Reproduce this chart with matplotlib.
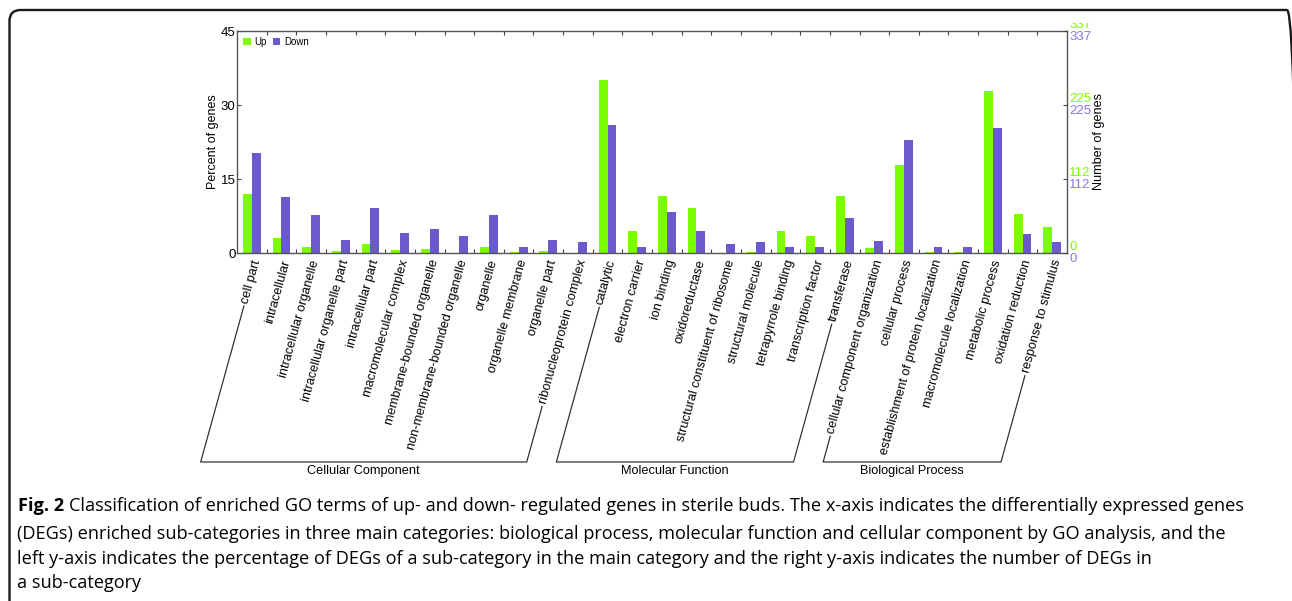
import numpy as np
import matplotlib
matplotlib.use("Agg")
import matplotlib.pyplot as plt
from matplotlib.transforms import IdentityTransform, ScaledTranslation, Bbox
from matplotlib.patches import FancyBboxPatch
from matplotlib.lines import Line2D

plt.rcParams['font.family'] = ['Liberation Sans', 'DejaVu Sans']

cc_terms = ["cell part", "intracellular", "intracellular organelle",
            "intracellular organelle part", "intracellular part",
            "macromolecular complex", "membrane-bounded organelle",
            "non-membrane-bounded organelle", "organelle", "organelle membrane",
            "organelle part", "ribonucleoprotein complex"]
mf_terms = ["catalytic", "electron carrier", "ion binding", "oxidoreductase",
            "structural constituent of ribosome", "structural molecule",
            "tetrapyrrole binding", "transcription factor", "transferase"]
bp_terms = ["cellular component organization", "cellular process",
            "establishment of protein localization", "macromolecule localization",
            "metabolic process", "oxidation reduction", "response to stimulus"]
groups = ["Cellular Component", "Molecular Function", "Biological Process"]

# percent of genes
up_pct = [12.0, 3.1, 1.3, 0.5, 1.9, 0.7, 0.8, 0.0, 1.3, 0.15, 0.5, 0.0,
          35.0, 4.5, 11.6, 9.1, 0.0, 0.15, 4.4, 3.4, 11.6,
          0.95, 17.9, 0.15, 0.15, 32.9, 7.85, 5.3]
down_pct = [20.3, 11.4, 7.7, 2.7, 9.1, 4.0, 4.8, 3.4, 7.7, 1.15, 2.7, 2.2,
            26.0, 1.3, 8.4, 4.5, 1.8, 2.2, 1.3, 1.3, 7.1,
            2.4, 23.0, 1.15, 1.3, 25.4, 3.9, 2.3]
right_ticks = [0, 112, 225, 337]
left_ticks = [0, 15, 30, 45]

caption = ["Classification of enriched GO terms of up- and down- regulated genes in sterile buds. The x-axis indicates the differentially expressed genes",
           "(DEGs) enriched sub-categories in three main categories: biological process, molecular function and cellular component by GO analysis, and the",
           "left y-axis indicates the percentage of DEGs of a sub-category in the main category and the right y-axis indicates the number of DEGs in",
           "a sub-category"]

green = '#7CFC00'
purple = '#6A5ACD'
W, H = 1292, 601
terms = cc_terms + mf_terms + bp_terms
n = len(terms)
x = np.arange(n)

fig = plt.figure(figsize=(W/100., H/100.), dpi=100)
ax = fig.add_axes([237./W, 1-253./H, 830./W, 222./H])
ax.bar(x-0.15, up_pct, width=0.3, color=green, label="Up", zorder=2)
ax.bar(x+0.15, down_pct, width=0.3, color=purple, label="Down", zorder=2)
ax.set_xlim(-0.5, n-0.5)
ax.set_ylim(0, 45)
ax.set_yticks(left_ticks)
ax.set_yticklabels([str(v) for v in left_ticks], fontsize=9.5)
ax.set_xticks(x[:-1]+0.5)
ax.set_xticklabels([])
ax.tick_params(axis='x', which='both', direction='in', top=True, bottom=True, length=3, width=0.8, color='#444444')
ax.tick_params(axis='y', direction='in', length=3, width=0.8, pad=1, color='#444444')
ax.set_ylabel("Percent of genes", fontsize=9.0, labelpad=1)
for s in ax.spines.values():
  s.set_color('#555555')
  s.set_linewidth(1.0)
ax.legend(loc='upper left', frameon=False, ncol=2, fontsize=7,
          handlelength=0.8, handleheight=0.8, columnspacing=0.6,
          handletextpad=0.4, borderaxespad=0.2)

ax2 = ax.twinx()
ax2.set_ylim(0, 337)
ax2.set_yticks(right_ticks)
ax2.set_yticklabels([])
ax2.tick_params(axis='y', direction='in', length=3, width=0.8, color='#444444')
for s in ax2.spines.values():
  s.set_visible(False)
topclip = Bbox.from_extents(0, 0, W, H-23)
for v in right_ticks:
  tg = ax2.annotate(str(v), xy=(1, v), xycoords=('axes fraction', 'data'),
                    xytext=(1.5, 4.3), textcoords='offset points', color=green,
                    fontsize=9.5, ha='left', va='center', annotation_clip=False)
  tg.set_clip_on(True)
  tg.set_clip_box(topclip)
  ax2.annotate(str(v), xy=(1, v), xycoords=('axes fraction', 'data'),
               xytext=(1.5, -4.3), textcoords='offset points', color='#8878EE',
               fontsize=9.5, ha='left', va='center', annotation_clip=False)
fig.text(1099./W, 1-142./H, "Number of genes", rotation=90, fontsize=9.1,
         ha='center', va='center')

# rotated category labels
theta = 74.5
labels = []
for i, t in enumerate(terms):
  tr = ax.get_xaxis_transform() + ScaledTranslation(3.5/72., -5/72., fig.dpi_scale_trans)
  lab = ax.text(i, 0, t, transform=tr, rotation=theta, rotation_mode='anchor',
                ha='right', va='center', fontsize=9.2)
  labels.append(lab)

fig.canvas.draw()
renderer = fig.canvas.get_renderer()
ct = np.cos(np.radians(theta))
st = np.sin(np.radians(theta))
ybot = H - 462

def label_foot(lab, gap=3):
  p = lab.get_transform().transform(lab.get_position())
  w, h, d = renderer.get_text_width_height_descent(lab.get_text(), lab.get_fontproperties(), ismath=False)
  return p[0]-(w+gap)*ct, p[1]-(w+gap)*st

def foot_to_bottom(p):
  t = (p[1]-ybot)/st
  return p[0]-t*ct, ybot

idx0 = 0
for g, grp in zip(groups, [cc_terms, mf_terms, bp_terms]):
  first = labels[idx0]
  last = labels[idx0+len(grp)-1]
  a = label_foot(first)
  b = label_foot(last)
  a2 = foot_to_bottom(a)
  b2 = foot_to_bottom(b)
  xs = [a[0], a2[0], b2[0], b[0]]
  ys = [a[1], a2[1], b2[1], b[1]]
  fig.add_artist(Line2D(xs, ys, transform=IdentityTransform(), color='#333333', lw=0.9))
  fig.text((a2[0]+b2[0])/2./W, 1-471./H, g, fontsize=9.2, ha='center', va='center')
  idx0 += len(grp)

# caption box and text
box = FancyBboxPatch((9.5, -40), 1298-9.5, H-10+40, boxstyle="round,pad=0,rounding_size=11",
                     transform=IdentityTransform(), fill=False, ec='#1a1a1a', lw=1.7)
fig.add_artist(box)
cap_font = ['Open Sans', 'DejaVu Sans']
cap_size = 13.1
base = [H-511, H-539, H-564, H-588]
fb = fig.text(18./W, base[0]/H, "Fig. 2", fontsize=cap_size, fontweight='bold', family=cap_font, va='baseline')
fig.canvas.draw()
bw = fb.get_window_extent(renderer).width
fig.text((18.+bw+5)/W, base[0]/H, caption[0], fontsize=cap_size, family=cap_font, va='baseline')
for k in range(1, 4):
  fig.text(17./W, base[k]/H, caption[k], fontsize=cap_size, family=cap_font, va='baseline')

fig.savefig("out.png", dpi=100)
